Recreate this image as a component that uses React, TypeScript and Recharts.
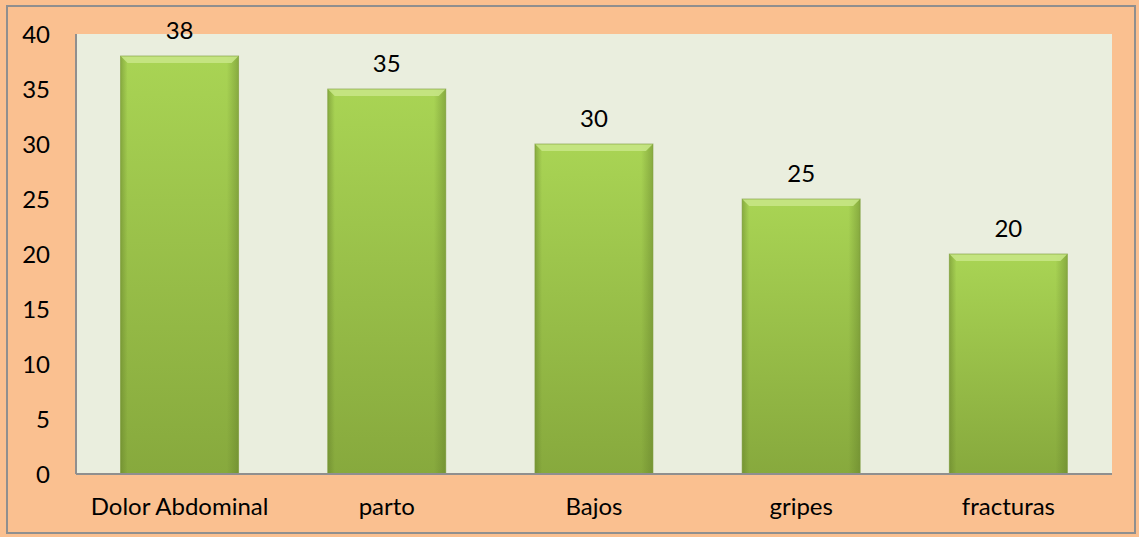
import { Bar, BarChart, CartesianGrid, LabelList, XAxis, YAxis } from 'recharts';

const categories = ['Dolor Abdominal', 'parto', 'Bajos', 'gripes', 'fracturas'];
const values = [38, 35, 30, 25, 20];
const yTicks = [0, 5, 10, 15, 20, 25, 30, 35, 40];

const data = categories.map((name, i) => ({ name, value: values[i] }));

const FONT = 'Lato, "Open Sans", sans-serif';

// bevelled green bar, like the office chart style
const BevelBar = (props: any) => {
	const { x, y, width, height } = props;
	if (!height || height <= 0) return null;
	const b = 7;
	return (
		<g>
			<rect x={x} y={y} width={width} height={height} fill="url(#barFill)" />
			<rect x={x} y={y} width={width} height={height} fill="url(#barSides)" />
			<polygon
				points={`${x},${y} ${x + width},${y} ${x + width - b},${y + b} ${x + b},${y + b}`}
				fill="#c6e585"
				opacity={0.9}
			/>
			<rect x={x} y={y} width={width} height={height} fill="none" stroke="#7c9a38" strokeWidth={1} opacity={0.6} />
		</g>
	);
};

export default function App() {
	return (
		<div style={{ position: 'absolute', left: 0, top: 0, width: 1139, height: 537, background: '#FAC090' }}>
			<div
				style={{
					position: 'absolute',
					left: 6,
					top: 5,
					width: 1130,
					height: 529,
					border: '2px solid #8f8f8f',
					boxSizing: 'border-box',
				}}
			/>
			<BarChart
				data={data}
				width={1139}
				height={537}
				margin={{ top: 34, right: 27, bottom: 0, left: 0 }}
				barCategoryGap="21.5%"
				style={{ position: 'absolute', left: 0, top: 0 }}
			>
				<defs>
					<linearGradient id="barFill" x1="0" y1="0" x2="0" y2="1">
						<stop offset="0%" stopColor="#a9d454" />
						<stop offset="100%" stopColor="#87a93d" />
					</linearGradient>
					<linearGradient id="barSides" x1="0" y1="0" x2="1" y2="0">
						<stop offset="0%" stopColor="#5f7a28" stopOpacity={0.45} />
						<stop offset="6%" stopColor="#5f7a28" stopOpacity={0} />
						<stop offset="90%" stopColor="#5f7a28" stopOpacity={0} />
						<stop offset="100%" stopColor="#5f7a28" stopOpacity={0.45} />
					</linearGradient>
				</defs>
				<CartesianGrid horizontal={false} vertical={false} fill="#EAEEDE" />
				<XAxis
					dataKey="name"
					height={63}
					axisLine={{ stroke: '#8f8f8f', strokeWidth: 2 }}
					tickLine={false}
					tickSize={0}
					tickMargin={24}
					tick={{ fill: '#000', fontSize: 24, fontFamily: FONT }}
					interval={0}
				/>
				<YAxis
					width={76}
					domain={[0, 40]}
					ticks={yTicks}
					axisLine={{ stroke: '#8f8f8f', strokeWidth: 2 }}
					tickLine={false}
					tickSize={0}
					tickMargin={26}
					tick={{ fill: '#000', fontSize: 24, fontFamily: FONT }}
				/>
				<Bar dataKey="value" shape={<BevelBar />} isAnimationActive={false}>
					<LabelList dataKey="value" position="top" offset={17} fill="#000" fontSize={24} fontFamily={FONT} />
				</Bar>
			</BarChart>
		</div>
	);
}
